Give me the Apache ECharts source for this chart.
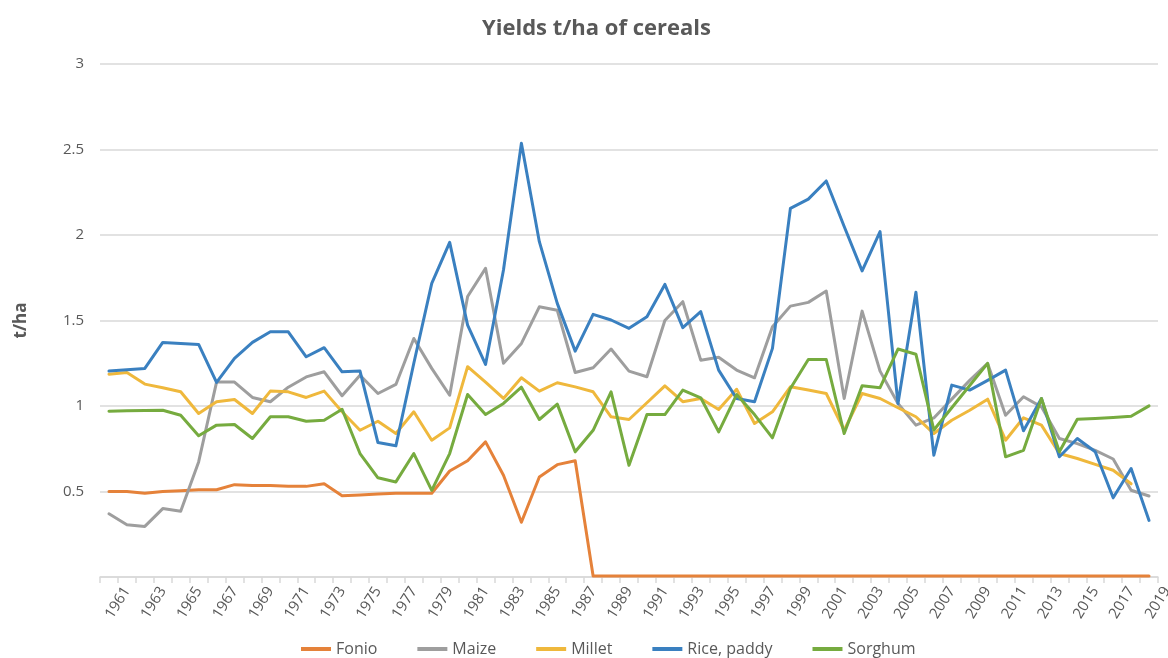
<!DOCTYPE html>
<html>
<head>
<meta charset="utf-8">
<script src="https://cdn.jsdelivr.net/npm/echarts@6/dist/echarts.min.js"></script>
<style>html,body{margin:0;padding:0;background:#fff}#c{width:1168px;height:658px}</style>
</head>
<body>
<div id="c"></div>
<script>
const years = [];
for (let y = 1961; y <= 2019; y++) years.push(String(y));

const fonio = [0.50,0.50,0.49,0.50,0.505,0.51,0.51,0.54,0.535,0.535,0.53,0.53,0.545,0.475,0.48,0.485,0.49,0.49,0.49,0.62,0.68,0.79,0.595,0.32,0.585,0.657,0.68,0.006,0.006,0.006,0.006,0.006,0.006,0.006,0.006,0.006,0.006,0.006,0.006,0.006,0.006,0.006,0.006,0.006,0.006,0.006,0.006,0.006,0.006,0.006,0.006,0.006,0.006,0.006,0.006,0.006,0.006,0.006,0.006];
const maize = [0.37,0.306,0.296,0.40,0.384,0.673,1.14,1.14,1.05,1.025,1.11,1.17,1.20,1.06,1.18,1.073,1.126,1.395,1.22,1.063,1.64,1.805,1.25,1.366,1.58,1.56,1.196,1.224,1.333,1.204,1.171,1.50,1.61,1.268,1.285,1.21,1.165,1.464,1.584,1.606,1.672,1.044,1.555,1.204,1.015,0.888,0.93,1.04,1.15,1.249,0.946,1.054,0.995,0.81,0.78,0.74,0.69,0.507,0.474];
const millet = [1.186,1.196,1.128,1.107,1.083,0.956,1.025,1.038,0.956,1.087,1.083,1.05,1.087,0.966,0.858,0.911,0.839,0.966,0.80,0.872,1.23,1.14,1.044,1.165,1.087,1.136,1.112,1.083,0.937,0.921,1.019,1.118,1.025,1.044,0.98,1.098,0.898,0.966,1.112,1.093,1.073,0.858,1.073,1.044,0.99,0.937,0.839,0.917,0.975,1.04,0.80,0.931,0.888,0.722,0.693,0.659,0.624,0.545,null];
const rice = [1.204,1.212,1.22,1.372,1.366,1.36,1.138,1.278,1.372,1.434,1.434,1.288,1.341,1.20,1.204,0.786,0.767,1.25,1.717,1.957,1.473,1.243,1.795,2.537,1.961,1.60,1.321,1.536,1.503,1.454,1.522,1.711,1.458,1.552,1.21,1.044,1.025,1.337,2.156,2.21,2.316,2.05,1.79,2.02,1.015,1.665,0.712,1.122,1.093,1.15,1.21,0.855,1.044,0.703,0.81,0.732,0.463,0.634,0.331];
const sorghum = [0.97,0.972,0.974,0.975,0.946,0.826,0.888,0.892,0.81,0.937,0.937,0.911,0.917,0.981,0.722,0.58,0.556,0.722,0.507,0.722,1.067,0.95,1.015,1.11,0.921,1.011,0.732,0.858,1.083,0.653,0.95,0.95,1.093,1.048,0.849,1.067,0.95,0.814,1.102,1.272,1.272,0.839,1.118,1.107,1.333,1.303,0.86,0.99,1.12,1.249,0.703,0.741,1.044,0.732,0.923,0.927,0.933,0.94,1.001];

const yTicks = [0, 0.5, 1, 1.5, 2, 2.5, 3];

const FONT = '"Open Sans", "Noto Sans", sans-serif';
const TXT = '#595959';

function mk(name, data, color) {
  return {
    name, type: 'line', data, showSymbol: false, symbol: 'none',
    lineStyle: { width: 3, color, cap: 'round', join: 'round' },
    itemStyle: { color }, connectNulls: false
  };
}

const chart = echarts.init(document.getElementById('c'), null, { renderer: 'canvas' });
chart.setOption({
  backgroundColor: '#fff',
  animation: false,
  textStyle: { fontFamily: FONT },
  title: {
    text: 'Yields t/ha of cereals', left: 477, top: 13,
    textStyle: { fontFamily: FONT, fontSize: 22, fontWeight: 'bold', color: TXT }
  },
  legend: {
    top: 636, left: 296, icon: 'rect', itemWidth: 30, itemHeight: 4, itemGap: 40,
    textStyle: { fontFamily: FONT, fontSize: 16, color: TXT }
  },
  grid: { left: 100, right: 10, top: 64, bottom: 81, containLabel: false, outerBoundsMode: 'none' },
  xAxis: {
    type: 'category', data: years, boundaryGap: true,
    axisLine: { lineStyle: { color: '#d9d9d9', width: 1.5 } },
    axisTick: { show: true, length: 6, interval: 0, lineStyle: { color: '#d9d9d9', width: 1.5 } },
    axisLabel: { interval: 1, rotate: 58, fontSize: 15, color: TXT, fontFamily: FONT, margin: 40,
      padding: [0, -34, 0, 0], hideOverlap: false }
  },
  yAxis: {
    type: 'value', min: yTicks[0], max: yTicks[yTicks.length - 1], interval: 0.5,
    name: 't/ha', nameLocation: 'middle', nameGap: 70, nameRotate: 90,
    nameTextStyle: { fontFamily: FONT, fontSize: 17, fontWeight: 'bold', color: TXT },
    axisLine: { show: false }, axisTick: { show: false },
    splitLine: { lineStyle: { color: '#d9d9d9', width: 1.5 } },
    axisLabel: { fontSize: 15, color: TXT, fontFamily: FONT, margin: 16,
      formatter: v => v === 0 ? '' : String(v) }
  },
  series: [
    mk('Fonio', fonio, '#E5823A'),
    mk('Maize', maize, '#9E9E9E'),
    mk('Millet', millet, '#EFB83C'),
    mk('Rice, paddy', rice, '#3A80C0'),
    mk('Sorghum', sorghum, '#76AB3F')
  ]
});
</script>
</body>
</html>
